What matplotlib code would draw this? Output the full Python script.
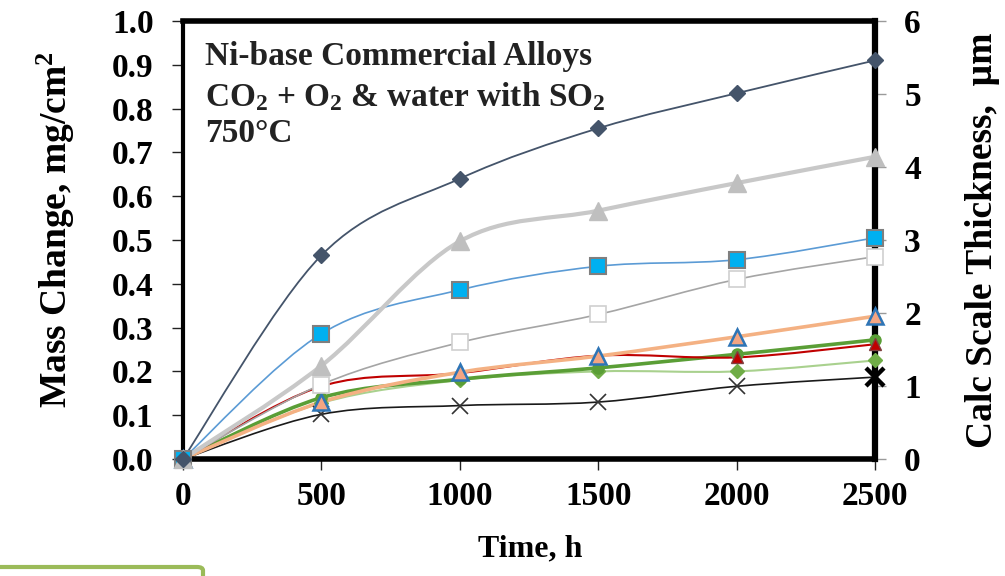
import matplotlib
matplotlib.use("Agg")
import matplotlib.pyplot as plt
import numpy as np
from matplotlib.path import Path
from matplotlib.patches import PathPatch, FancyBboxPatch

plt.rcParams['font.family'] = ['Liberation Serif', 'DejaVu Serif']
plt.rcParams['font.weight'] = 'bold'
plt.rcParams['mathtext.fontset'] = 'custom'
plt.rcParams['mathtext.rm'] = 'Liberation Serif:bold'
plt.rcParams['mathtext.it'] = 'Liberation Serif:bold'
plt.rcParams['mathtext.bf'] = 'Liberation Serif:bold'

# ---------------- data ----------------
time_h = [0, 500, 1000, 1500, 2000, 2500]
alloy_dark_diamond = [0, 0.465, 0.640, 0.755, 0.835, 0.910]
alloy_gray_triangle = [0, 0.213, 0.497, 0.567, 0.630, 0.690]
alloy_blue_square = [0, 0.286, 0.386, 0.440, 0.455, 0.505]
alloy_open_square = [0, 0.170, 0.266, 0.330, 0.410, 0.462]
alloy_salmon_triangle = [0, 0.130, 0.198, 0.235, 0.279, 0.326]
alloy_red_triangle = [0, 0.166, 0.196, 0.236, 0.232, 0.262]
alloy_green_circle = [0, 0.140, 0.182, 0.208, 0.239, 0.272]
alloy_green_diamond = [0, 0.128, 0.180, 0.200, 0.200, 0.225]
alloy_black_x = [0, 0.102, 0.122, 0.130, 0.166, 0.187]

x_ticks = [0, 500, 1000, 1500, 2000, 2500]
y_ticks = [0.0, 0.1, 0.2, 0.3, 0.4, 0.5, 0.6, 0.7, 0.8, 0.9, 1.0]
y2_ticks = [0, 1, 2, 3, 4, 5, 6]

fig = plt.figure(figsize=(10.05, 5.76), dpi=100)
ax = fig.add_axes([183/1005, 1-459/576, (875-183)/1005, (459-21)/576])


def smooth_path(xs, ys):
    """Excel-style smoothed line: cubic Bezier through points (Catmull-Rom)."""
    pts = np.column_stack([xs, ys]).astype(float)
    n = len(pts)
    verts = [pts[0]]
    codes = [Path.MOVETO]
    for i in range(n - 1):
        p0 = pts[i - 1] if i > 0 else pts[i]
        p1 = pts[i]
        p2 = pts[i + 1]
        p3 = pts[i + 2] if i + 2 < n else pts[i + 1]
        c1 = p1 + (p2 - p0) / 6.0
        c2 = p2 - (p3 - p1) / 6.0
        verts += [c1, c2, p2]
        codes += [Path.CURVE4] * 3
    return Path(verts, codes)


series = [
    # values, line color, lw, marker, ms, face, edge, mew
    (alloy_black_x, '#1a1a1a', 1.2, 'x', 11, 'none', '#333333', 1.2),
    (alloy_green_diamond, '#a9d18e', 1.5, 'D', 7, '#70ad47', '#70ad47', 1),
    (alloy_green_circle, '#5a9e36', 2.6, 'o', 8, '#5a9e36', '#5a9e36', 1),
    (alloy_red_triangle, '#c00000', 1.5, '^', 9, '#c00000', '#7f3f3f', 1),
    (alloy_salmon_triangle, '#f4b183', 2.6, '^', 11, '#f4a582', '#2e75b6', 1.8),
    (alloy_open_square, '#a5a5a5', 1.2, 's', 11, 'white', '#d0d0d0', 1.2),
    (alloy_blue_square, '#5b9bd5', 1.2, 's', 12, '#00b0f0', '#7f7f7f', 1.5),
    (alloy_gray_triangle, '#c8c8c8', 3.0, '^', 13, '#bfbfbf', '#bfbfbf', 1),
    (alloy_dark_diamond, '#44546a', 1.3, 'D', 8, '#44546a', '#44546a', 1),
]

for vals, lc, lw, mk, ms, fc, ec, mew in series:
    patch = PathPatch(smooth_path(time_h, vals), facecolor='none', edgecolor=lc,
                      lw=lw, zorder=2, clip_on=False)
    ax.add_patch(patch)

for vals, lc, lw, mk, ms, fc, ec, mew in series:
    ax.plot(time_h, vals, linestyle='none', marker=mk, markersize=ms,
            markerfacecolor=fc, markeredgecolor=ec, markeredgewidth=mew,
            zorder=3, clip_on=False)

# emphasised last X marker
ax.plot([time_h[-1]], [alloy_black_x[-1]], linestyle='none', marker='x',
        markersize=13, markeredgecolor='black', markeredgewidth=3.2, zorder=4,
        clip_on=False)

ax.set_xlim(0, 2500)
ax.set_ylim(0, 1.0)
ax.set_xticks(x_ticks)
ax.set_yticks(y_ticks)
ax.set_xticklabels([str(t) for t in x_ticks])
ax.set_yticklabels([f"{t:.1f}" for t in y_ticks])
ax.tick_params(axis='both', direction='out', length=8, width=1, color='#222222',
               labelsize=24)
ax.tick_params(axis='x', pad=8)
ax.tick_params(axis='y', pad=13)

ax.spines['left'].set_linewidth(3)
for sp in ['bottom', 'top']:
    ax.spines[sp].set_linewidth(4)
ax.spines['right'].set_visible(False)

ax.set_xlabel('Time, h', fontsize=23, fontweight='bold')
ax.xaxis.set_label_coords(0.5015, -0.172)
ax.set_ylabel('Mass Change, mg/cm$^2$', fontsize=27, fontweight='bold')
ax.yaxis.set_label_coords(-0.153, 0.525)

ax2 = ax.twinx()
ax2.set_ylim(0, 6)
ax2.set_yticks(y2_ticks)
ax2.set_yticklabels([str(t) for t in y2_ticks])
ax2.tick_params(axis='y', direction='out', length=8, width=1, color='#9a9a9a',
                labelsize=24, pad=13)
for sp in ['left', 'top', 'bottom']:
    ax2.spines[sp].set_visible(False)
ax2.spines['right'].set_linewidth(4.5)
ax2.spines['right'].set_color('black')
ax2.set_ylabel('Calc Scale Thickness,  µm', fontsize=27, fontweight='bold')
ax2.yaxis.set_label_coords(1.13, 0.5)
ax.set_zorder(ax2.get_zorder() + 1)
ax.patch.set_visible(False)

# annotation text
ax.text(0.032, 0.918, 'Ni-base Commercial Alloys', transform=ax.transAxes,
        fontsize=24, fontweight='bold', color='#222222', va='center', ha='left')
ax.text(0.032, 0.826, 'CO$_2$ + O$_2$ & water with SO$_2$', transform=ax.transAxes,
        fontsize=24, color='#222222', va='center', ha='left')
ax.text(0.032, 0.744, '750°C', transform=ax.transAxes,
        fontsize=24, fontweight='bold', color='#222222', va='center', ha='left')

# green rounded frame at the bottom left (partially visible)
box = FancyBboxPatch((-20 / 1005, -30 / 576), 223 / 1005, 39 / 576,
                     boxstyle='round,pad=0,rounding_size=0.006',
                     transform=fig.transFigure, facecolor='none',
                     edgecolor='#9bbb59', lw=3, clip_on=False)
fig.patches.append(box)

fig.savefig('out.png', dpi=100)
